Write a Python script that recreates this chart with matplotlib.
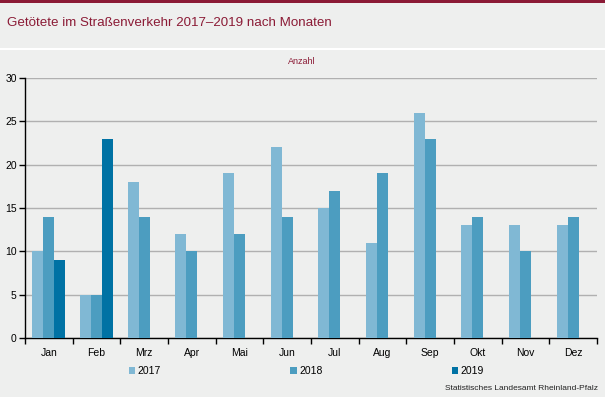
import matplotlib
matplotlib.use("Agg")
import matplotlib.pyplot as plt
import numpy as np
from matplotlib.patches import Rectangle

months = ["Jan", "Feb", "Mrz", "Apr", "Mai", "Jun", "Jul", "Aug", "Sep", "Okt", "Nov", "Dez"]
v2017 = [10, 5, 18, 12, 19, 22, 15, 11, 26, 13, 13, 13]
v2018 = [14, 5, 14, 10, 12, 14, 17, 19, 23, 14, 10, 14]
v2019 = [9, 23, np.nan, np.nan, np.nan, np.nan, np.nan, np.nan, np.nan, np.nan, np.nan, np.nan]
series_names = ["2017", "2018", "2019"]
colors = ["#80b8d4", "#4c9dc0", "#0072a4"]

plt.rcParams['font.family'] = ['Liberation Sans', 'DejaVu Sans']
W, H = 605, 397
fig = plt.figure(figsize=(W / 100, H / 100), dpi=100)
bg = "#eeefee"
fig.patch.set_facecolor(bg)

def fx(px):
    return px / W
def fy(py):
    return 1 - py / H

# top dark red bar
fig.add_artist(Rectangle((0, fy(2.5)), 1, 2.5 / H, transform=fig.transFigure, color="#8b1b36", lw=0))
# white separator
fig.add_artist(Rectangle((0, fy(50)), 1, 2 / H, transform=fig.transFigure, color="white", lw=0))

fig.text(fx(7), fy(23), "Getötete im Straßenverkehr 2017–2019 nach Monaten", color="#8b1b36",
         fontsize=9.6, va="center", ha="left")
fig.text(fx(302), fy(62), "Anzahl", color="#8b1b36", fontsize=6.5, va="center", ha="center")

ax = fig.add_axes([fx(25), fy(338), fx(597) - fx(25), (338 - 78) / H])
ax.set_facecolor(bg)

x = np.arange(len(months))
bw = 0.23
data = [v2017, v2018, v2019]
handles = []
for i, (vals, c, n) in enumerate(zip(data, colors, series_names)):
    b = ax.bar(x + (i - 1) * bw, vals, width=bw, color=c, label=n, zorder=3, linewidth=0)
    handles.append(b)

ax.set_xlim(-0.5, len(months) - 0.5)
ax.set_ylim(0, 30)
ax.set_yticks(range(0, 31, 5))
ax.yaxis.grid(True, color="#b0b0b0", linewidth=1, zorder=0)
ax.set_axisbelow(True)
ax.set_xticks(x)
ax.set_xticklabels(months)
ax.set_xticks(np.arange(-0.5, len(months), 1), minor=True)
ax.tick_params(axis="x", which="major", length=0, pad=7, labelsize=7.5)
ax.tick_params(axis="x", which="minor", length=4, width=1, direction="out", color="black")
ax.tick_params(axis="y", length=4, width=1, direction="out", labelsize=7.5, pad=2)
for s in ["top", "right"]:
    ax.spines[s].set_visible(False)
ax.spines["left"].set_linewidth(1)
ax.spines["bottom"].set_linewidth(1)

leg = fig.legend(handles=handles, labels=series_names, loc="center left",
                 bbox_to_anchor=(fx(129), fy(371)), ncol=3, frameon=False, fontsize=7.5,
                 handlelength=0.6, handleheight=0.6, handletextpad=0.25, columnspacing=12.4,
                 borderaxespad=0, borderpad=0)

fig.text(fx(598), fy(389), "Statistisches Landesamt Rheinland-Pfalz", fontsize=6, ha="right", va="center",
         color="#222222")

fig.savefig("out.png", dpi=100, facecolor=bg)
